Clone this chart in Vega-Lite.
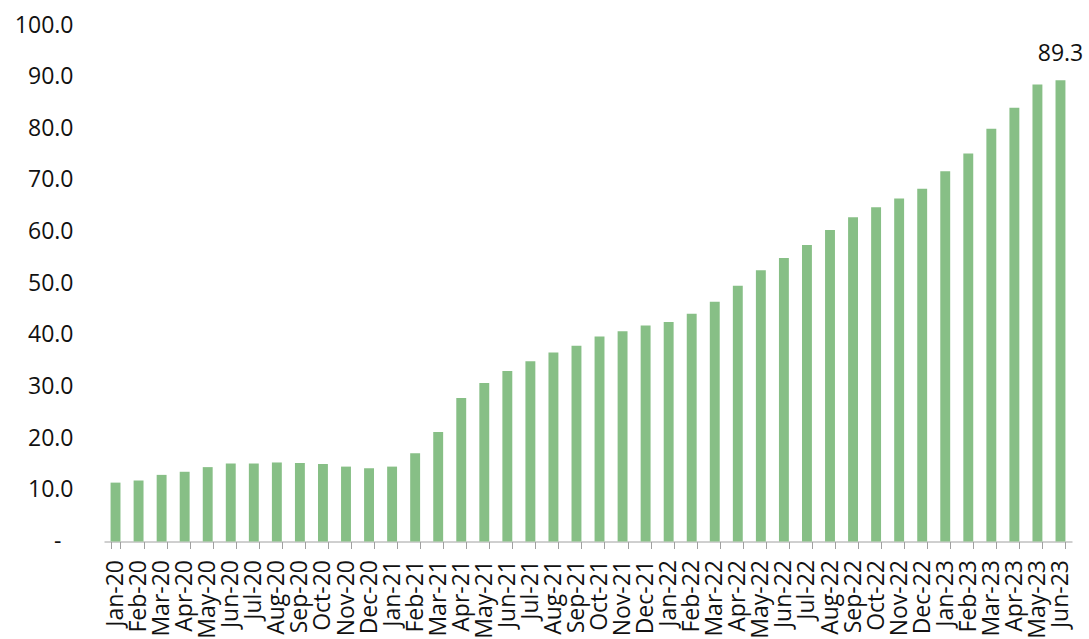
{
  "$schema": "https://vega.github.io/schema/vega-lite/v6.json",
  "autosize": "none",
  "width": 968,
  "height": 516.5,
  "padding": {"left": 104, "top": 25, "right": 17, "bottom": 97.5},
  "background": "white",
  "config": {
    "view": {"stroke": null},
    "font": "Open Sans"
  },
  "data": {
    "values": [
      {"month": "Jan-20", "value": 11.4},
      {"month": "Feb-20", "value": 11.8},
      {"month": "Mar-20", "value": 12.9},
      {"month": "Apr-20", "value": 13.5},
      {"month": "May-20", "value": 14.4},
      {"month": "Jun-20", "value": 15.1},
      {"month": "Jul-20", "value": 15.1},
      {"month": "Aug-20", "value": 15.3},
      {"month": "Sep-20", "value": 15.2},
      {"month": "Oct-20", "value": 15.0},
      {"month": "Nov-20", "value": 14.5},
      {"month": "Dec-20", "value": 14.2},
      {"month": "Jan-21", "value": 14.5},
      {"month": "Feb-21", "value": 17.1},
      {"month": "Mar-21", "value": 21.2},
      {"month": "Apr-21", "value": 27.8},
      {"month": "May-21", "value": 30.7},
      {"month": "Jun-21", "value": 33.0},
      {"month": "Jul-21", "value": 34.9},
      {"month": "Aug-21", "value": 36.6},
      {"month": "Sep-21", "value": 37.9},
      {"month": "Oct-21", "value": 39.7},
      {"month": "Nov-21", "value": 40.7},
      {"month": "Dec-21", "value": 41.8},
      {"month": "Jan-22", "value": 42.5},
      {"month": "Feb-22", "value": 44.1},
      {"month": "Mar-22", "value": 46.4},
      {"month": "Apr-22", "value": 49.5},
      {"month": "May-22", "value": 52.5},
      {"month": "Jun-22", "value": 54.9},
      {"month": "Jul-22", "value": 57.4},
      {"month": "Aug-22", "value": 60.3},
      {"month": "Sep-22", "value": 62.8},
      {"month": "Oct-22", "value": 64.7},
      {"month": "Nov-22", "value": 66.4},
      {"month": "Dec-22", "value": 68.3},
      {"month": "Jan-23", "value": 71.7},
      {"month": "Feb-23", "value": 75.1},
      {"month": "Mar-23", "value": 79.9},
      {"month": "Apr-23", "value": 84.0},
      {"month": "May-23", "value": 88.5},
      {"month": "Jun-23", "value": 89.3}
    ]
  },
  "encoding": {
    "x": {
      "field": "month",
      "type": "ordinal",
      "sort": null,
      "scale": {"paddingInner": 0.57, "paddingOuter": 0.285},
      "axis": {
        "title": null,
        "labelAngle": 270,
        "labelFont": "Open Sans",
        "labelFontSize": 23,
        "labelColor": "#111111",
        "labelPadding": 11,
        "tickBand": "extent",
        "tickSize": 7,
        "tickColor": "#a0a0a0",
        "domainColor": "#a0a0a0",
        "labelOverlap": false,
        "labelBound": false
      }
    },
    "y": {
      "field": "value",
      "type": "quantitative",
      "scale": {"domain": [0, 100], "nice": false},
      "axis": {
        "title": null,
        "values": [0, 10, 20, 30, 40, 50, 60, 70, 80, 90, 100],
        "labelExpr": "datum.value === 0 ? '-' : format(datum.value, '.1f')",
        "labelFont": "Open Sans",
        "labelFontSize": 23,
        "labelColor": "#111111",
        "labelPadding": {"condition": {"test": "datum.value === 0", "value": 43}, "value": 31},
        "ticks": false,
        "domain": false,
        "grid": false
      }
    }
  },
  "layer": [
    {
      "mark": {"type": "bar", "color": "#87bf86"}
    },
    {
      "transform": [{"filter": "datum.month === 'Jun-23'"}],
      "mark": {
        "type": "text",
        "font": "Open Sans",
        "fontSize": 23,
        "color": "#111111",
        "baseline": "alphabetic",
        "dy": -19
      },
      "encoding": {
        "text": {"field": "value", "type": "quantitative", "format": ".1f"}
      }
    }
  ]
}
